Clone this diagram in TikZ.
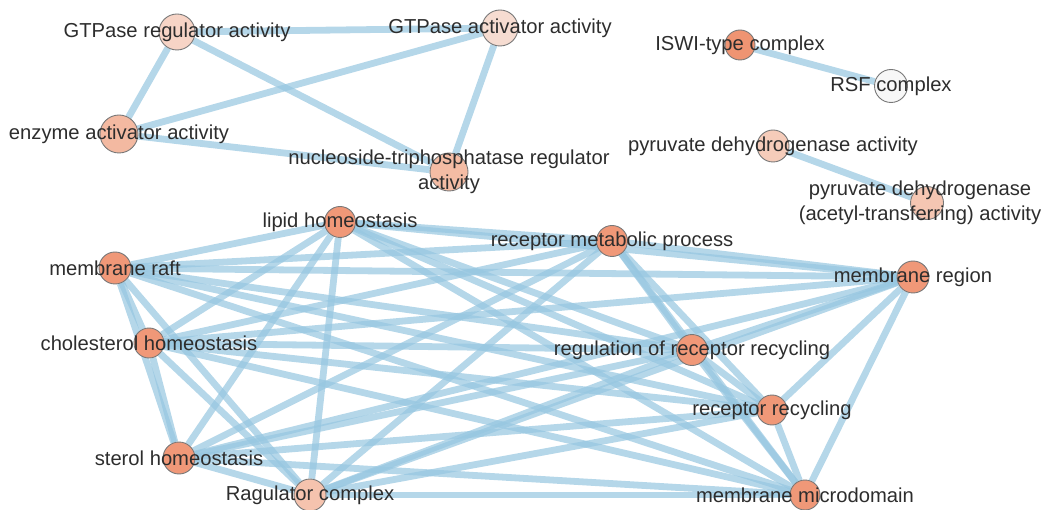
\documentclass[tikz,border=0pt]{standalone}
\usepackage{fontspec}
\setmainfont{Liberation Sans}
\usetikzlibrary{backgrounds}
\definecolor{edgeblue}{RGB}{150,198,224}
\definecolor{labelgray}{RGB}{45,45,45}
\definecolor{ringgray}{RGB}{120,120,120}
\definecolor{cSalmon}{RGB}{240,152,120}
\definecolor{cIswi}{RGB}{239,148,114}
\definecolor{cGreg}{RGB}{247,212,198}
\definecolor{cGact}{RGB}{246,220,209}
\definecolor{cEnz}{RGB}{243,185,161}
\definecolor{cNuc}{RGB}{244,188,164}
\definecolor{cPyr}{RGB}{245,204,186}
\definecolor{cPyrA}{RGB}{245,198,178}
\definecolor{cRag}{RGB}{245,195,174}
\definecolor{cRsf}{RGB}{247,247,247}
\tikzset{
  gcirc/.style={circle, draw=ringgray, line width=0.9pt, inner sep=0pt},
  glabel/.style={text=labelgray, font=\fontsize{20.2}{25}\selectfont, align=center, inner sep=0pt},
  edge/.style={draw=edgeblue, line width=6.8pt, draw opacity=0.7}
}
% name, x, y, diameter, fill, label, label x
\newcommand\gnodeL[7]{%
  \node[gcirc, minimum size=#4pt, fill=#5] (#1) at (#2,#3) {};
  \node[glabel] (#1-l) at (#7,#3) {#6};
}
\newcommand\gnode[6]{\gnodeL{#1}{#2}{#3}{#4}{#5}{#6}{#2}}
\begin{document}
\begin{tikzpicture}[x=1pt,y=-1pt]
\useasboundingbox (0,0) rectangle (1046,510);
\clip (0,0) rectangle (1046,510);
% top cluster
\gnode{greg}{177}{32}{36}{cGreg}{GTPase regulator activity}
\gnode{gact}{500}{28}{36}{cGact}{GTPase activator activity}
\gnode{enz}{119}{134}{38}{cEnz}{enzyme activator activity}
\gnode{nuc}{449}{172}{38}{cNuc}{nucleoside-triphosphatase regulator\\activity}
\gnode{iswi}{740}{45}{30}{cIswi}{ISWI-type complex}
\gnode{rsf}{891}{86}{33}{cRsf}{RSF complex}
\gnode{pyr}{773}{146}{32}{cPyr}{pyruvate dehydrogenase activity}
\gnodeL{pyra}{927}{203}{33}{cPyrA}{pyruvate dehydrogenase\\(acetyl-transferring) activity}{920}
% bottom cluster
\gnode{lip}{340}{222}{31}{cSalmon}{lipid homeostasis}
\gnode{rmp}{612}{241}{31}{cSalmon}{receptor metabolic process}
\gnode{mraft}{115}{268}{32}{cSalmon}{membrane raft}
\gnode{mreg}{913}{277}{32}{cSalmon}{membrane region}
\gnode{chol}{149}{343}{30}{cSalmon}{cholesterol homeostasis}
\gnode{rrr}{692}{350}{31}{cSalmon}{regulation of receptor recycling}
\gnode{rr}{772}{410}{30}{cSalmon}{receptor recycling}
\gnode{ster}{179}{458}{32}{cSalmon}{sterol homeostasis}
\gnode{rag}{310}{495}{32}{cRag}{Ragulator complex}
\gnode{mmd}{805}{495}{30}{cSalmon}{membrane microdomain}
\begin{scope}[on background layer]
  \foreach \a/\b in {greg/gact, greg/enz, greg/nuc, enz/gact, enz/nuc, gact/nuc,
                     iswi/rsf, pyr/pyra}
    \draw[edge] (\a) -- (\b);
  \foreach \a/\b in {lip/rmp, lip/mraft, lip/mreg, lip/chol, lip/rrr, lip/rr, lip/ster, lip/rag, lip/mmd,
                     rmp/mraft, rmp/mreg, rmp/chol, rmp/rrr, rmp/rr, rmp/ster, rmp/rag, rmp/mmd,
                     mraft/mreg, mraft/chol, mraft/rrr, mraft/rr, mraft/ster, mraft/rag, mraft/mmd,
                     mreg/chol, mreg/rrr, mreg/rr, mreg/ster, mreg/rag, mreg/mmd,
                     chol/rrr, chol/rr, chol/ster, chol/rag, chol/mmd,
                     rrr/rr, rrr/ster, rrr/rag, rrr/mmd,
                     rr/ster, rr/rag, rr/mmd,
                     ster/rag, ster/mmd,
                     rag/mmd}
    \draw[edge] (\a) -- (\b);
\end{scope}
\end{tikzpicture}
\end{document}
